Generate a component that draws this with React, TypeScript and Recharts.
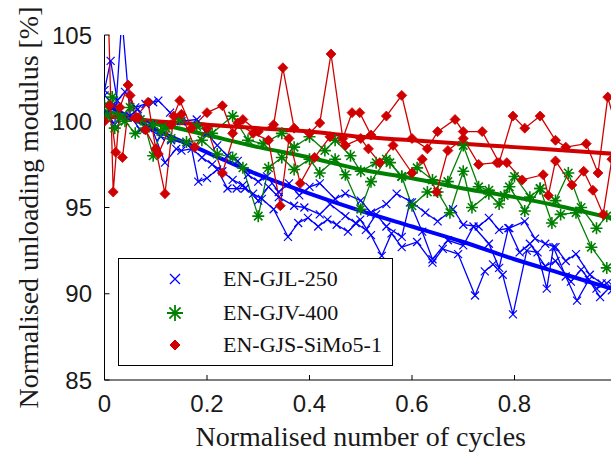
import React from 'react';
import { LineChart, Line, XAxis, YAxis } from 'recharts';

const BLUE = '#0000ff';
const GREEN = '#008000';
const RED = '#d00000';

const seriesNames = ['EN-GJL-250', 'EN-GJV-400', 'EN-GJS-SiMo5-1'];
const xTicks = [0, 0.2, 0.4, 0.6, 0.8];
const yTicks = [85, 90, 95, 100, 105];

// EN-GJL-250 specimens
const gjlAx = [0, 0.012, 0.025, 0.04, 0.06, 0.08, 0.095, 0.105, 0.128, 0.15, 0.18, 0.2, 0.22, 0.24, 0.26, 0.28, 0.3, 0.317, 0.34, 0.36, 0.38, 0.4, 0.42, 0.45, 0.47, 0.5, 0.52, 0.55, 0.57, 0.6, 0.626, 0.65, 0.68, 0.7, 0.73, 0.75, 0.77, 0.79, 0.82, 0.84, 0.86, 0.88, 0.9, 0.92, 0.947, 0.97, 0.99];
const gjlAy = [101.8, 103.5, 101.2, 101.7, 100.8, 101.0, 101.1, 101.2, 100.5, 100.0, 100.1, 99.3, 98.6, 98.0, 97.7, 96.9, 96.5, 96.8, 95.9, 96.4, 95.7, 96.2, 96.4, 95.5, 95.8, 95.4, 94.7, 95.2, 95.8, 95.3, 94.7, 94.2, 94.9, 94.0, 93.9, 94.4, 93.7, 93.8, 94.2, 93.2, 92.9, 92.7, 91.9, 92.3, 91.1, 90.6, 90.2];
const gjlBx = [0.005, 0.02, 0.034, 0.05, 0.07, 0.09, 0.118, 0.14, 0.15, 0.17, 0.183, 0.2, 0.22, 0.24, 0.258, 0.274, 0.29, 0.307, 0.33, 0.358, 0.378, 0.397, 0.417, 0.435, 0.453, 0.475, 0.499, 0.52, 0.541, 0.56, 0.58, 0.61, 0.64, 0.66, 0.69, 0.723, 0.742, 0.758, 0.777, 0.797, 0.824, 0.845, 0.863, 0.876, 0.9, 0.922, 0.945, 0.967, 0.99];
const gjlBy = [100.5, 99.8, 106, 100.3, 99.5, 99.8, 97.6, 98.4, 98.3, 98.4, 96.5, 96.7, 97.2, 96.1, 96.1, 96.1, 95.8, 95.5, 94.9, 93.3, 94.1, 94.4, 93.9, 94.3, 94.0, 93.6, 94.3, 93.4, 92.2, 93.5, 92.7, 93.0, 91.8, 92.6, 92.3, 89.9, 91.3, 91.7, 91.1, 88.8, 92.5, 92.4, 90.3, 92.7, 91.0, 89.6, 90.8, 89.8, 90.5];
const gjlCx = [0.0, 0.02, 0.045, 0.065, 0.085, 0.11, 0.13, 0.16, 0.19, 0.21, 0.23, 0.25, 0.27, 0.3, 0.32, 0.34, 0.37, 0.39, 0.42, 0.44, 0.47, 0.49, 0.51, 0.53, 0.55, 0.58, 0.596, 0.62, 0.64, 0.67, 0.7, 0.72, 0.75, 0.77, 0.788, 0.81, 0.83, 0.86, 0.88, 0.91, 0.93, 0.96, 0.98];
const gjlCy = [101.5, 100.9, 100.2, 100.7, 99.6, 99.1, 98.9, 98.7, 97.9, 97.5, 97.1, 96.6, 96.3, 95.4, 96.2, 95.6, 95.1, 95.0, 94.6, 95.2, 94.5, 94.1, 93.7, 94.6, 93.9, 93.3, 95.3, 93.6, 92.0, 93.1, 92.8, 93.9, 92.9, 91.5, 93.8, 92.4, 92.9, 91.6, 91.9, 90.7, 91.4, 90.3, 90.6];

// EN-GJV-400 specimens
const gjvAx = [0.0, 0.015, 0.03, 0.05, 0.07, 0.095, 0.12, 0.147, 0.18, 0.21, 0.25, 0.28, 0.31, 0.346, 0.37, 0.4, 0.43, 0.45, 0.48, 0.5, 0.53, 0.557, 0.58, 0.61, 0.64, 0.67, 0.7, 0.73, 0.75, 0.78, 0.8, 0.83, 0.85, 0.88, 0.905, 0.93, 0.96, 0.98];
const gjvAy = [100.9, 101.4, 100.2, 100.8, 100.1, 99.8, 99.6, 100.1, 99.7, 99.3, 100.3, 98.9, 98.7, 99.3, 98.5, 99.1, 98.3, 98.9, 98.0, 97.1, 97.6, 97.6, 96.8, 97.3, 96.6, 96.5, 98.6, 96.2, 96.0, 95.7, 96.8, 95.6, 96.1, 95.4, 97.0, 95.0, 93.8, 94.5];
const gjvBx = [0.005, 0.02, 0.04, 0.06, 0.08, 0.095, 0.11, 0.13, 0.16, 0.19, 0.22, 0.25, 0.27, 0.3, 0.32, 0.346, 0.37, 0.4, 0.42, 0.45, 0.47, 0.5, 0.52, 0.55, 0.58, 0.6, 0.63, 0.65, 0.674, 0.7, 0.717, 0.75, 0.77, 0.79, 0.82, 0.85, 0.873, 0.89, 0.92, 0.95, 0.98];
const gjvBy = [100.3, 99.6, 100.0, 99.3, 99.6, 98.0, 99.4, 99.0, 98.8, 98.9, 98.1, 97.9, 97.3, 94.5, 97.3, 97.9, 97.2, 97.8, 97.0, 97.8, 96.9, 94.9, 96.5, 97.8, 96.8, 95.1, 95.9, 95.9, 94.7, 97.1, 95.0, 95.8, 95.2, 96.2, 94.8, 96.1, 94.1, 94.6, 94.7, 92.7, 91.5];

// EN-GJS-SiMo5-1 specimens
const gjsAx = [0.005, 0.017, 0.03, 0.046, 0.06, 0.085, 0.1, 0.118, 0.135, 0.147, 0.17, 0.2, 0.23, 0.25, 0.27, 0.3, 0.33, 0.348, 0.37, 0.4, 0.42, 0.442, 0.465, 0.483, 0.498, 0.52, 0.55, 0.58, 0.6, 0.63, 0.65, 0.684, 0.7, 0.737, 0.77, 0.797, 0.82, 0.85, 0.88, 0.9, 0.94, 0.963, 0.982, 1.0];
const gjsAy = [109, 95.9, 100.8, 102.1, 100.2, 101.1, 98.4, 95.8, 100.3, 101.2, 99.6, 100.5, 100.9, 99.3, 100.1, 99.4, 99.8, 103.1, 99.6, 99.3, 99.9, 103.9, 99.0, 100.5, 100.5, 99.2, 100.3, 101.5, 99.0, 98.4, 99.4, 100.1, 99.4, 99.4, 97.6, 100.3, 99.6, 100.3, 98.9, 98.5, 98.7, 97.0, 101.4, 99.5];
const gjsBx = [0.0, 0.01, 0.022, 0.035, 0.05, 0.065, 0.08, 0.105, 0.13, 0.15, 0.176, 0.2, 0.23, 0.26, 0.29, 0.32, 0.343, 0.36, 0.382, 0.41, 0.44, 0.47, 0.5, 0.515, 0.537, 0.563, 0.6, 0.62, 0.648, 0.67, 0.7, 0.73, 0.766, 0.785, 0.815, 0.856, 0.866, 0.88, 0.912, 0.935, 0.953, 0.973, 0.99];
const gjsBy = [100.0, 100.9, 98.2, 97.9, 101.5, 100.2, 99.5, 98.1, 99.8, 100.4, 98.5, 99.6, 97.0, 99.9, 99.3, 98.9, 95.1, 99.0, 96.4, 97.9, 99.1, 98.6, 99.0, 98.4, 97.6, 98.6, 97.0, 97.8, 95.9, 98.3, 99.0, 97.5, 97.6, 97.6, 96.6, 96.9, 95.7, 97.7, 96.3, 97.1, 96.0, 94.6, 97.8];

// Fitted trends
const trendX = [0, 0.1, 0.2, 0.3, 0.4, 0.5, 0.6, 0.7, 0.8, 0.9, 1.0];
const gjlTrend = [101.0, 99.5, 98.2, 96.9, 95.8, 94.8, 93.9, 93.0, 92.0, 91.1, 90.2];
const gjvTrend = [100.6, 99.9, 99.2, 98.5, 97.9, 97.2, 96.7, 96.1, 95.6, 95.0, 94.3];
const gjsTrend = [100.3, 100.0, 99.8, 99.6, 99.4, 99.1, 98.9, 98.7, 98.5, 98.3, 98.1];

const zip = (xs: number[], ys: number[]) => xs.map((x, i) => ({ x, y: ys[i] }));

const XMark = (props: any) => {
  const { cx, cy } = props;
  if (cx == null || cy == null) return <g key={props.key} />;
  const s = 4;
  return (
    <path key={props.key} d={`M${cx - s},${cy - s}L${cx + s},${cy + s}M${cx - s},${cy + s}L${cx + s},${cy - s}`} stroke={BLUE} strokeWidth={1.2} fill="none" />
  );
};
const StarMark = (props: any) => {
  const { cx, cy } = props;
  if (cx == null || cy == null) return <g key={props.key} />;
  const s = 6;
  const d = 4.2;
  return (
    <path key={props.key} d={`M${cx - s},${cy}L${cx + s},${cy}M${cx},${cy - s}L${cx},${cy + s}M${cx - d},${cy - d}L${cx + d},${cy + d}M${cx - d},${cy + d}L${cx + d},${cy - d}`} stroke={GREEN} strokeWidth={1.6} fill="none" />
  );
};
const DiamondMark = (props: any) => {
  const { cx, cy } = props;
  if (cx == null || cy == null) return <g key={props.key} />;
  const s = 5;
  return (
    <path key={props.key} d={`M${cx},${cy - s}L${cx + s},${cy}L${cx},${cy + s}L${cx - s},${cy}Z`} fill={RED} stroke={RED} strokeWidth={0.8} />
  );
};

const noisy = [
  { id: 'gjlA', data: zip(gjlAx, gjlAy), color: BLUE, dot: XMark },
  { id: 'gjlB', data: zip(gjlBx, gjlBy), color: BLUE, dot: XMark },
  { id: 'gjlC', data: zip(gjlCx, gjlCy), color: BLUE, dot: XMark },
];
const noisyG = [
  { id: 'gjvA', data: zip(gjvAx, gjvAy), color: GREEN, dot: StarMark },
  { id: 'gjvB', data: zip(gjvBx, gjvBy), color: GREEN, dot: StarMark },
];
const noisyR = [
  { id: 'gjsA', data: zip(gjsAx, gjsAy), color: RED, dot: DiamondMark },
  { id: 'gjsB', data: zip(gjsBx, gjsBy), color: RED, dot: DiamondMark },
];

const LegendBox = () => {
  const rows = [
    { name: seriesNames[0], mark: <path d="M-5,-5L5,5M-5,5L5,-5" stroke={BLUE} strokeWidth={1.3} fill="none" /> },
    { name: seriesNames[1], mark: <path d="M-8,0L8,0M0,-8L0,8M-5.6,-5.6L5.6,5.6M-5.6,5.6L5.6,-5.6" stroke={GREEN} strokeWidth={1.8} fill="none" /> },
    { name: seriesNames[2], mark: <path d="M0,-5L5,0L0,5L-5,0Z" fill={RED} stroke={RED} /> },
  ];
  return (
    <div style={{ position: 'absolute', left: 118, top: 258, width: 275, height: 108, border: '1.5px solid #000', background: '#fff', boxSizing: 'border-box' }}>
      {rows.map((r, i) => (
        <div key={r.name} style={{ position: 'absolute', left: 0, top: [20, 54, 86][i] - 16, height: 32, display: 'flex', alignItems: 'center' }}>
          <svg width={104} height={32} style={{ display: 'block' }}>
            <g transform="translate(56,16)">{r.mark}</g>
          </svg>
          <span style={{ fontFamily: '"Liberation Serif", serif', fontSize: 22, color: '#111', whiteSpace: 'nowrap', lineHeight: '32px' }}>{r.name}</span>
        </div>
      ))}
    </div>
  );
};

const tickStyle = { fontFamily: '"Liberation Sans", Arial, sans-serif', fontSize: 24, fill: '#1a1a1a' };

export default function App() {
  const renderNoisy = (s: any) => (
    <Line
      key={s.id}
      xAxisId="b"
      data={s.data}
      dataKey="y"
      type="linear"
      stroke={s.color}
      strokeWidth={1.3}
      dot={s.dot}
      activeDot={false}
      legendType="none"
      isAnimationActive={false}
    />
  );
  const renderTrend = (id: string, ys: number[], color: string) => (
    <Line
      key={id}
      xAxisId="b"
      data={zip(trendX, ys)}
      dataKey="y"
      type="monotone"
      stroke={color}
      strokeWidth={4}
      dot={false}
      activeDot={false}
      legendType="none"
      isAnimationActive={false}
    />
  );
  return (
    <div style={{ position: 'absolute', left: 0, top: 0, width: 611, height: 454, overflow: 'hidden', background: '#fff' }}>
      <LineChart width={625} height={454} margin={{ top: 35, right: 8, bottom: 0, left: 0 }}>
        <XAxis
          xAxisId="b"
          dataKey="x"
          type="number"
          domain={[0, 1]}
          ticks={xTicks}
          allowDataOverflow
          height={74}
          stroke="#000"
          tickSize={-5}
          tickMargin={20}
          tick={tickStyle}
          label={{ value: 'Normalised number of cycles', position: 'insideBottom', offset: 8, style: { fontFamily: '"Liberation Serif", serif', fontSize: 28, fill: '#1a1a1a' } }}
        />
        <XAxis
          xAxisId="t"
          orientation="top"
          dataKey="x"
          type="number"
          domain={[0, 1]}
          ticks={xTicks}
          height={0}
          stroke="#000"
          tickSize={-5}
          tick={() => <g />}
        />
        <YAxis
          type="number"
          domain={[85, 105]}
          ticks={yTicks}
          allowDataOverflow
          width={104.5}
          stroke="#000"
          tickSize={-5}
          tickMargin={17.5}
          tick={tickStyle}
          label={{ value: 'Normalised unloading modulus [%]', angle: -90, position: 'insideLeft', offset: 28, style: { fontFamily: '"Liberation Serif", serif', fontSize: 28, fill: '#1a1a1a', textAnchor: 'middle' } }}
        />
        {noisy.map(renderNoisy)}
        {renderTrend('gjlT', gjlTrend, BLUE)}
        {noisyG.map(renderNoisy)}
        {renderTrend('gjvT', gjvTrend, GREEN)}
        {noisyR.map(renderNoisy)}
        {renderTrend('gjsT', gjsTrend, RED)}
      </LineChart>
      <LegendBox />
    </div>
  );
}
